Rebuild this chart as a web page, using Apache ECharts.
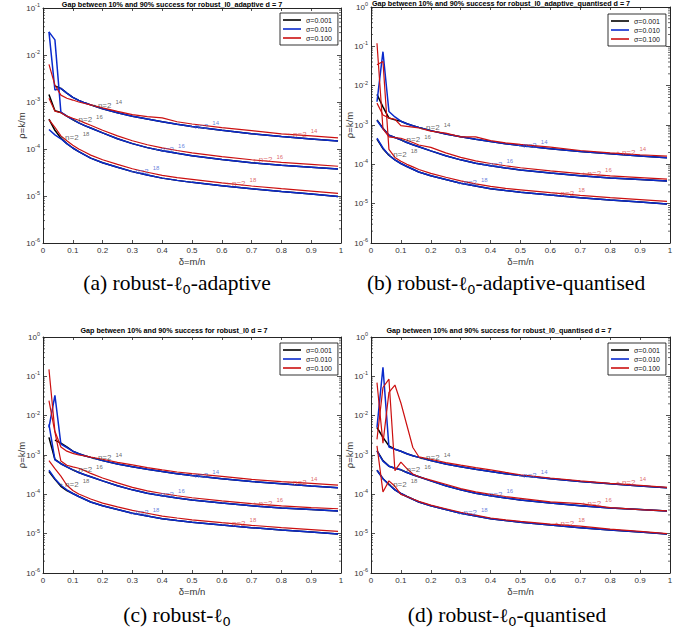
<!DOCTYPE html>
<html><head><meta charset="utf-8">
<script src="https://cdn.jsdelivr.net/npm/echarts@6/dist/echarts.min.js"></script>
<style>html,body{margin:0;padding:0;background:#fff}#c{width:689px;height:632px}</style>
</head><body><div id="c"></div>
<script>
// ---------- data ----------
const X = [0.02,0.04,0.06,0.08,0.1,0.12,0.14,0.16,0.2,0.25,0.3,0.35,0.4,0.45,0.5,0.6,0.7,0.8,0.9,0.99];
// smooth black/blue values from delta=0.1 onwards (shared shape in all panels)
const tail14 = [1.25e-3,1.08e-3,9.6e-4,8.7e-4,7.2e-4,5.9e-4,5.0e-4,4.35e-4,3.8e-4,3.35e-4,3.0e-4,2.5e-4,2.12e-4,1.85e-4,1.64e-4,1.48e-4];
const tail16 = [4.2e-4,3.6e-4,3.15e-4,2.8e-4,2.2e-4,1.65e-4,1.3e-4,1.07e-4,9.2e-5,8.1e-5,7.2e-5,6.0e-5,5.1e-5,4.5e-5,4.1e-5,3.75e-5];
const tail18 = [1.05e-4,8.8e-5,7.5e-5,6.4e-5,5.1e-5,4.1e-5,3.3e-5,2.8e-5,2.4e-5,2.15e-5,1.95e-5,1.65e-5,1.42e-5,1.24e-5,1.1e-5,9.8e-6];
// first four points (delta = 0.02..0.08) of black / blue curves per panel
const aBlack14 = [null,2.2e-3,1.95e-3,1.55e-3];
const aBlue14  = [3.1e-2,1.8e-3,1.95e-3,1.55e-3];
const aBlack16 = [1.45e-3,6.5e-4,6.0e-4,5.0e-4];
const aBlue16  = [3.1e-2,2.1e-2,6.1e-4,5.0e-4];
const aBlack18 = [4.3e-4,2.5e-4,1.7e-4,1.3e-4];
const aBlue18  = [2.6e-4,2.0e-4,1.65e-4,1.3e-4];
const bBlack14 = [6.0e-3,2.9e-3,1.5e-3,1.35e-3];
const bBlue14  = [3.9e-3,7.3e-2,2.2e-3,1.6e-3];
const bBlack16 = [1.35e-3,8.3e-4,5.5e-4,4.8e-4];
const bBlue16  = [1.3e-3,8.0e-4,5.5e-4,4.8e-4];
const bBlack18 = [4.4e-4,2.5e-4,1.7e-4,1.3e-4];
const bBlue18  = [4.6e-4,2.6e-4,1.7e-4,1.3e-4];
const cBlack14 = [null,2.4e-3,2.0e-3,1.6e-3];
const cBlue14  = [5.0e-3,3.3e-2,1.9e-3,1.55e-3];
const cBlack16 = [2.8e-3,7.7e-4,6.0e-4,5.0e-4];
const cBlue16  = [6.0e-3,7.5e-4,6.0e-4,5.0e-4];
const cBlack18 = [3.8e-4,2.4e-4,1.6e-4,1.25e-4];
const cBlue18  = [4.1e-4,2.5e-4,1.7e-4,1.3e-4];
const dBlack14 = [5.0e-3,2.8e-3,1.7e-3,1.4e-3];
const dBlue14  = [5.0e-3,0.17,1.6e-3,1.4e-3];
const dBlack16 = [1.3e-3,7.2e-4,5.2e-4,4.6e-4];
const dBlue16  = [1.25e-3,7.0e-4,5.2e-4,4.6e-4];
const dBlack18 = [4.1e-4,2.5e-4,1.8e-4,1.3e-4];
const dBlue18  = [4.1e-4,2.5e-4,1.75e-4,1.3e-4];
// red (sigma = 0.100) curves, full length
const aRed14 = [6.3e-3,2.3e-3,1.4e-3,1.2e-3,1.1e-3,1.0e-3,9.3e-4,8.7e-4,7.5e-4,6.3e-4,5.4e-4,4.9e-4,4.6e-4,3.8e-4,3.4e-4,2.85e-4,2.45e-4,2.1e-4,1.9e-4,1.72e-4];
const aRed16 = [1.2e-3,6.4e-4,5.9e-4,5.0e-4,4.5e-4,4.1e-4,3.6e-4,3.2e-4,2.5e-4,1.9e-4,1.5e-4,1.23e-4,1.06e-4,9.3e-5,8.3e-5,6.9e-5,5.9e-5,5.2e-5,4.7e-5,4.3e-5];
const aRed18 = [4.2e-4,2.9e-4,1.9e-4,1.5e-4,1.2e-4,1.0e-4,8.6e-5,7.4e-5,5.9e-5,4.7e-5,3.8e-5,3.2e-5,2.75e-5,2.45e-5,2.25e-5,1.9e-5,1.63e-5,1.43e-5,1.27e-5,1.14e-5];
const bRed14 = [3.6e-3,1.8e-3,1.5e-3,1.4e-3,9.6e-4,9.2e-4,8.8e-4,8.4e-4,7.0e-4,6.2e-4,5.0e-4,5.0e-4,4.0e-4,3.5e-4,3.2e-4,2.75e-4,2.25e-4,1.95e-4,1.75e-4,1.62e-4];
const bRed16 = [0.12,8.0e-4,5.0e-4,4.8e-4,4.6e-4,4.1e-4,3.6e-4,3.1e-4,2.7e-4,1.95e-4,1.5e-4,1.22e-4,1.05e-4,9.2e-5,8.2e-5,6.8e-5,5.8e-5,5.1e-5,4.6e-5,4.2e-5];
const bRed18 = [3.4e-2,4.1e-2,2.4e-4,1.5e-4,1.2e-4,1.0e-4,8.6e-5,7.4e-5,5.9e-5,4.7e-5,3.8e-5,3.2e-5,2.75e-5,2.45e-5,2.25e-5,1.9e-5,1.63e-5,1.43e-5,1.27e-5,1.14e-5];
const cRed14 = [0.15,4.0e-3,1.6e-3,1.25e-3,1.1e-3,1.0e-3,9.5e-4,8.8e-4,7.8e-4,6.5e-4,5.6e-4,4.8e-4,4.2e-4,3.7e-4,3.35e-4,2.85e-4,2.4e-4,2.1e-4,1.9e-4,1.72e-4];
const cRed16 = [2.4e-2,3.8e-3,7.0e-4,5.5e-4,5.0e-4,4.6e-4,4.0e-4,3.4e-4,2.6e-4,1.95e-4,1.5e-4,1.22e-4,1.05e-4,9.2e-5,8.2e-5,6.8e-5,5.8e-5,5.1e-5,4.6e-5,4.3e-5];
const cRed18 = [7.2e-4,4.5e-4,2.9e-4,1.7e-4,1.25e-4,1.02e-4,8.8e-5,7.6e-5,6.0e-5,4.8e-5,3.9e-5,3.3e-5,2.8e-5,2.5e-5,2.25e-5,1.9e-5,1.63e-5,1.43e-5,1.27e-5,1.14e-5];
const dRed14 = [6.9e-2,2.0e-3,3.9e-2,6.0e-2,2.1e-2,5.7e-3,1.55e-3,9.0e-4,7.8e-4,6.4e-4,5.5e-4,4.8e-4,4.2e-4,3.6e-4,3.15e-4,2.6e-4,2.2e-4,1.9e-4,1.68e-4,1.5e-4];
const dRed16 = [2.5e-3,5.2e-2,8.5e-2,4.0e-4,6.6e-4,4.5e-4,3.3e-4,2.8e-4,2.3e-4,1.8e-4,1.4e-4,1.15e-4,1.0e-4,8.8e-5,7.9e-5,6.4e-5,5.8e-5,4.6e-5,4.1e-5,3.8e-5];
const dRed18 = [1.7e-3,1.15e-4,2.2e-4,1.6e-4,1.0e-4,8.8e-5,7.6e-5,6.6e-5,5.3e-5,4.3e-5,3.5e-5,2.95e-5,2.5e-5,2.25e-5,2.05e-5,1.75e-5,1.55e-5,1.3e-5,1.15e-5,1.0e-5];
// curve annotations n=2^k : anchor point of each label (black, blue, red)
const labExp = ['14','16','18'];
const labXBlack = [0.165,0.10,0.055];
const labYBlack = [8.5e-4,4.2e-4,1.8e-4];
const labXBlue  = [0.49,0.375,0.29];
const labYBlue  = [3.05e-4,1.0e-4,3.4e-5];
const labXRed   = [0.82,0.705,0.615];
const labYRed   = [2.05e-4,5.9e-5,1.85e-5];
// texts
const sigmaNames = ['σ=0.001','σ=0.010','σ=0.100'];
const titles = [
  'Gap between 10% and 90% success for robust_l0_adaptive d = 7',
  'Gap between 10% and 90% success for robust_l0_adaptive_quantised d = 7',
  'Gap between 10% and 90% success for robust_l0 d = 7',
  'Gap between 10% and 90% success for robust_l0_quantised d = 7'];
const capLetters = ['(a)','(b)','(c)','(d)'];
const capSuffix = ['-adaptive','-adaptive-quantised','','-quantised'];
const xName = 'δ=m/n', yName = 'ρ=k/m';

// ---------- styles ----------
const lineColors = ['#000000','#0a2acc','#cc1010'];
const labColors = ['#404040','#3f62d4','#d64646'];
const axisCol = '#262626';
const FONT = '"Liberation Sans", Arial, sans-serif';

const panels = [
  {g:{left:43,top:8,width:298,height:235}, ymin:1e-6, ymax:1e-1,
   black:[aBlack14,aBlack16,aBlack18], blue:[aBlue14,aBlue16,aBlue18], red:[aRed14,aRed16,aRed18],
   tx:172, ty:4, cx:177, cy:283, lg:{left:280,top:13}},
  {g:{left:371,top:7,width:299,height:236}, ymin:1e-6, ymax:1e0,
   black:[bBlack14,bBlack16,bBlack18], blue:[bBlue14,bBlue16,bBlue18], red:[bRed14,bRed16,bRed18],
   tx:501, ty:3.5, cx:506, cy:283, lg:{left:608,top:14}},
  {g:{left:43,top:337,width:298,height:236}, ymin:1e-6, ymax:1e0,
   black:[cBlack14,cBlack16,cBlack18], blue:[cBlue14,cBlue16,cBlue18], red:[cRed14,cRed16,cRed18],
   tx:174, ty:330, cx:177, cy:615, lg:{left:280,top:343}},
  {g:{left:371,top:337,width:299,height:236}, ymin:1e-6, ymax:1e0,
   black:[dBlack14,dBlack16,dBlack18], blue:[dBlue14,dBlue16,dBlue18], red:[dRed14,dRed16,dRed18],
   tx:499, ty:330, cx:507, cy:615, lg:{left:608,top:343}}
];
const tails = [tail14, tail16, tail18];

const grids = [], xAxes = [], yAxes = [], series = [], legends = [], graphics = [];

function headTail(head, tail) {
  const out = [];
  X.forEach((x, j) => {
    const v = j < 4 ? head[j] : tail[j - 4];
    if (v != null) out.push([x, v]);
  });
  return out;
}
function full(arr) { return X.map((x, j) => [x, arr[j]]); }

panels.forEach((p, k) => {
  grids.push(Object.assign({containLabel:false, outerBoundsMode:'none', show:false}, p.g));
  const tickStyle = {color: axisCol, width: 0.8};
  const xBase = {type:'value', gridIndex:k, min:0, max:1, interval:0.1,
    axisLine:{show:true, onZero:false, lineStyle:{color:axisCol, width:1}},
    axisTick:{show:true, inside:true, length:3, lineStyle:tickStyle},
    splitLine:{show:false}, nameMoveOverlap:false};
  xAxes.push(Object.assign({}, xBase, {position:'bottom',
    axisLabel:{show:true, fontSize:8, color:'#333', margin:3, fontFamily:FONT},
    name:xName, nameLocation:'middle', nameGap:13,
    nameTextStyle:{fontSize:9.5, color:'#333', fontFamily:FONT}}));
  xAxes.push(Object.assign({}, xBase, {position:'top', axisLabel:{show:false}}));
  const yBase = {type:'log', gridIndex:k, min:p.ymin, max:p.ymax, logBase:10,
    axisLine:{show:true, onZero:false, lineStyle:{color:axisCol, width:1}},
    axisTick:{show:true, inside:true, length:4, lineStyle:tickStyle},
    splitLine:{show:false}, minorTick:{show:false}, nameMoveOverlap:false};
  yAxes.push(Object.assign({}, yBase, {position:'left',
    axisLabel:{show:true, margin:3, formatter: v => '{b|10}{e|' + Math.round(Math.log10(v)) + '}',
      rich:{b:{fontSize:8, color:'#333', fontFamily:FONT, lineHeight:12},
            e:{fontSize:5.5, color:'#333', fontFamily:FONT, lineHeight:6, verticalAlign:'top'}}},
    name:yName, nameLocation:'middle', nameGap:17,
    nameTextStyle:{fontSize:9.5, color:'#333', fontFamily:FONT}}));
  yAxes.push(Object.assign({}, yBase, {position:'right', axisLabel:{show:false}}));
  const xi = 2 * k, yi = 2 * k;
  const mk = (name, color, width, data, z) => ({
    type:'line', name, xAxisIndex:xi, yAxisIndex:yi, data, color,
    showSymbol:false, symbol:'none', z, animation:false, silent:true,
    lineStyle:{color, width}, emphasis:{disabled:true}});
  for (let b = 0; b < 3; b++) {
    series.push(mk(sigmaNames[0], lineColors[0], 1.5, headTail(p.black[b], tails[b]), 2));
    series.push(mk(sigmaNames[1], lineColors[1], 1.5, headTail(p.blue[b], tails[b]), 3));
    series.push(mk(sigmaNames[2], lineColors[2], 1.2, full(p.red[b]), 4));
  }
  // minor log ticks on left/right borders
  const minor = [];
  for (let e = -6; e < Math.round(Math.log10(p.ymax)); e++)
    for (let m = 2; m <= 9; m++) minor.push([0, m * Math.pow(10, e)]);
  series.push({type:'custom', name:'minor', xAxisIndex:xi, yAxisIndex:yi, data:minor, silent:true,
    z:10, clip:false, animation:false,
    renderItem: (params, api) => {
      const v = api.value(1);
      const a = api.coord([0, v]), c = api.coord([1, v]);
      return {type:'group', children:[
        {type:'line', shape:{x1:a[0], y1:a[1], x2:a[0] + 2, y2:a[1]}, style:{stroke:axisCol, lineWidth:0.7}},
        {type:'line', shape:{x1:c[0] - 2, y1:c[1], x2:c[0], y2:c[1]}, style:{stroke:axisCol, lineWidth:0.7}}]};
    }});
  // n=2^k annotations
  const labData = [];
  const groups = [[labXBlack, labYBlack, 0], [labXBlue, labYBlue, 1], [labXRed, labYRed, 2]];
  groups.forEach(([lx, ly, ci]) => {
    for (let b = 0; b < 3; b++) {
      labData.push({value:[lx[b], ly[b]], label:{
        formatter:'{p|+}{n| n=2}{s|' + labExp[b] + '}',
        rich:{p:{fontSize:6, color:labColors[ci], fontFamily:FONT, lineHeight:12},
              n:{fontSize:8, color:labColors[ci], fontFamily:FONT, lineHeight:12},
              s:{fontSize:6, color:labColors[ci], fontFamily:FONT, lineHeight:6, verticalAlign:'top', padding:[0,0,0,4]}}}});
    }
  });
  series.push({type:'scatter', name:'labels', xAxisIndex:xi, yAxisIndex:yi, data:labData,
    symbolSize:0, silent:true, z:6, animation:false,
    label:{show:true, position:'right', distance:0}});
  legends.push({left:p.lg.left, top:p.lg.top, orient:'vertical', data:sigmaNames,
    icon:'rect', itemWidth:18, itemHeight:1.6, itemGap:1, padding:[3,6,3,3],
    borderColor:'#000', borderWidth:0.8, backgroundColor:'#fff', selectedMode:false, z:20,
    textStyle:{fontSize:7, color:'#111', fontFamily:FONT, lineHeight:8}});
  graphics.push({type:'text', x:p.tx, y:p.ty, z:30, style:{text:titles[k],
    font:'bold 7.2px ' + FONT, fill:'#000', align:'center', verticalAlign:'middle',
    textAlign:'center', textVerticalAlign:'middle'}});
  graphics.push({type:'text', x:p.cx, y:p.cy, z:30, style:{
    text:'{t|' + capLetters[k] + ' robust-}{l|ℓ}{z|0}{t|' + capSuffix[k] + '}',
    align:'center', verticalAlign:'middle', textAlign:'center', textVerticalAlign:'middle',
    rich:{t:{fontFamily:'"Liberation Serif", serif', fontSize:21.5, fill:'#000', lineHeight:26},
          l:{fontFamily:'"DejaVu Serif", serif', fontSize:19, fill:'#000', lineHeight:26},
          z:{fontFamily:'"DejaVu Sans", sans-serif', fontSize:13, fill:'#000', lineHeight:14, verticalAlign:'bottom'}}}});
});

const chart = echarts.init(document.getElementById('c'), null, {renderer:'svg', width:689, height:632});
chart.setOption({
  animation:false, backgroundColor:'#fff',
  grid:grids, xAxis:xAxes, yAxis:yAxes, series, legend:legends, graphic:graphics
});
</script></body></html>
